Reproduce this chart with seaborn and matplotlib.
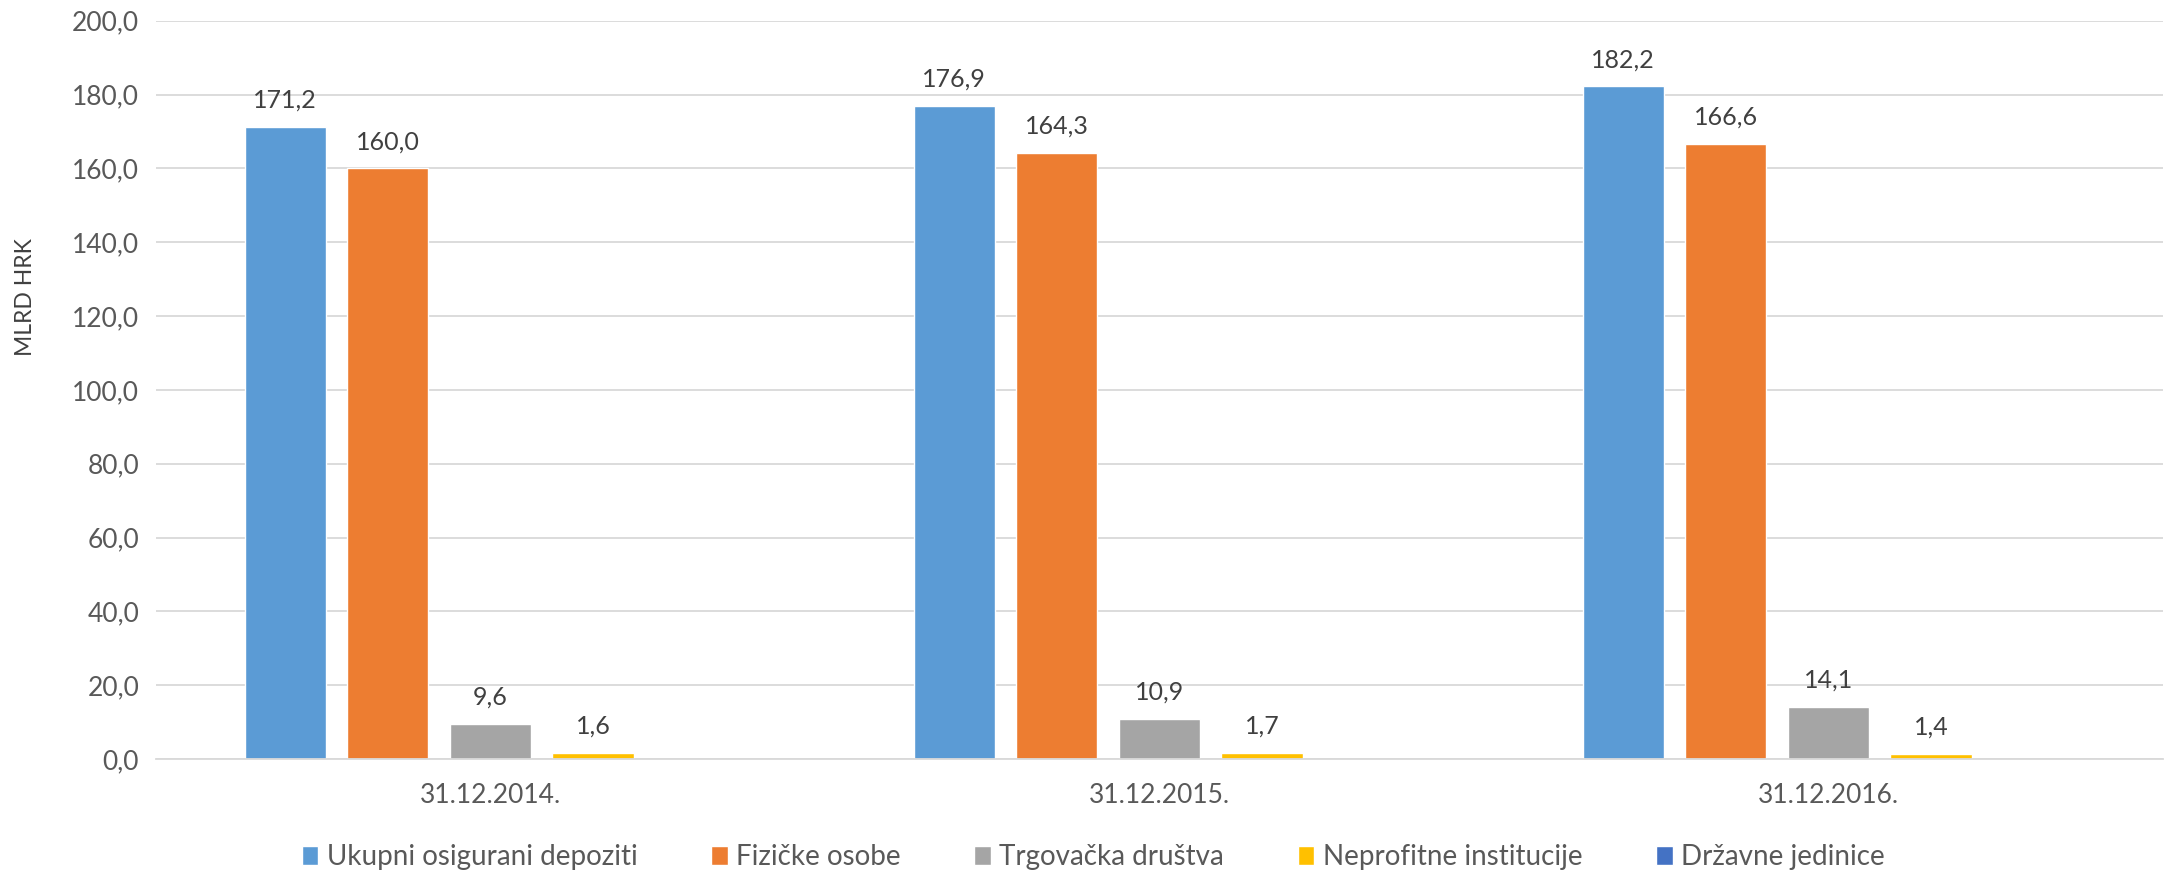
import pandas as pd
import matplotlib.pyplot as plt
import seaborn as sns

dates = ["31.12.2014.", "31.12.2015.", "31.12.2016."]
series = ["Ukupni osigurani depoziti", "Fizičke osobe", "Trgovačka društva",
          "Neprofitne institucije", "Državne jedinice"]
ukupni = [171.2, 176.9, 182.2]
fizicke = [160.0, 164.3, 166.6]
trgovacka = [9.6, 10.9, 14.1]
neprofitne = [1.6, 1.7, 1.4]
drzavne = [0.0, 0.0, 0.0]
colors = ["#5B9BD5", "#ED7D31", "#A5A5A5", "#FFC000", "#4472C4"]

rows = []
for name, vals in zip(series, [ukupni, fizicke, trgovacka, neprofitne, drzavne]):
    for d, v in zip(dates, vals):
        rows.append({"datum": d, "serija": name, "vrijednost": v})
df = pd.DataFrame(rows)

sns.set_theme(style="white")
plt.rcParams["font.family"] = ["Lato", "DejaVu Sans"]

fig = plt.figure(figsize=(21.65, 8.75), dpi=100)
ax = fig.add_axes([0.072, 0.1326, 0.927, 0.8437])

sns.barplot(data=df, x="datum", y="vrijednost", hue="serija", order=dates,
            hue_order=series, palette=colors, width=0.767, gap=0.21,
            saturation=1, errorbar=None, ax=ax)

# oznake vrijednosti, bez nula
for cont in ax.containers:
    labels = ["" if b.get_height() == 0 else f"{b.get_height():.1f}".replace(".", ",")
              for b in cont]
    ax.bar_label(cont, labels=labels, padding=11, fontsize=18, color="#404040")

ax.set_xlim(-0.5, 2.5)
ax.set_ylim(0, 200)
ax.set_yticks(range(0, 201, 20))
ax.set_yticklabels([f"{v},0" for v in range(0, 201, 20)])
ax.yaxis.grid(True, color="#D9D9D9", linewidth=1.3)
ax.set_axisbelow(True)
for s in ["top", "right", "left"]:
    ax.spines[s].set_visible(False)
ax.spines["bottom"].set_color("#D9D9D9")
ax.spines["bottom"].set_linewidth(1.3)
ax.tick_params(axis="both", length=0, labelsize=19, colors="#595959", pad=12)
ax.tick_params(axis="x", pad=17)
ax.set_xlabel("")
ax.set_ylabel("")
fig.text(0.012, 0.66, "MLRD HRK", rotation=90, fontsize=16.5, color="#404040",
         ha="center", va="center")

ax.legend(loc="center", bbox_to_anchor=(0.467, -0.133), ncol=5, frameon=False,
          fontsize=20, handlelength=0.6, handleheight=0.7, handletextpad=0.3,
          columnspacing=2.65, labelcolor="#595959")

fig.savefig("out.png", dpi=100)
